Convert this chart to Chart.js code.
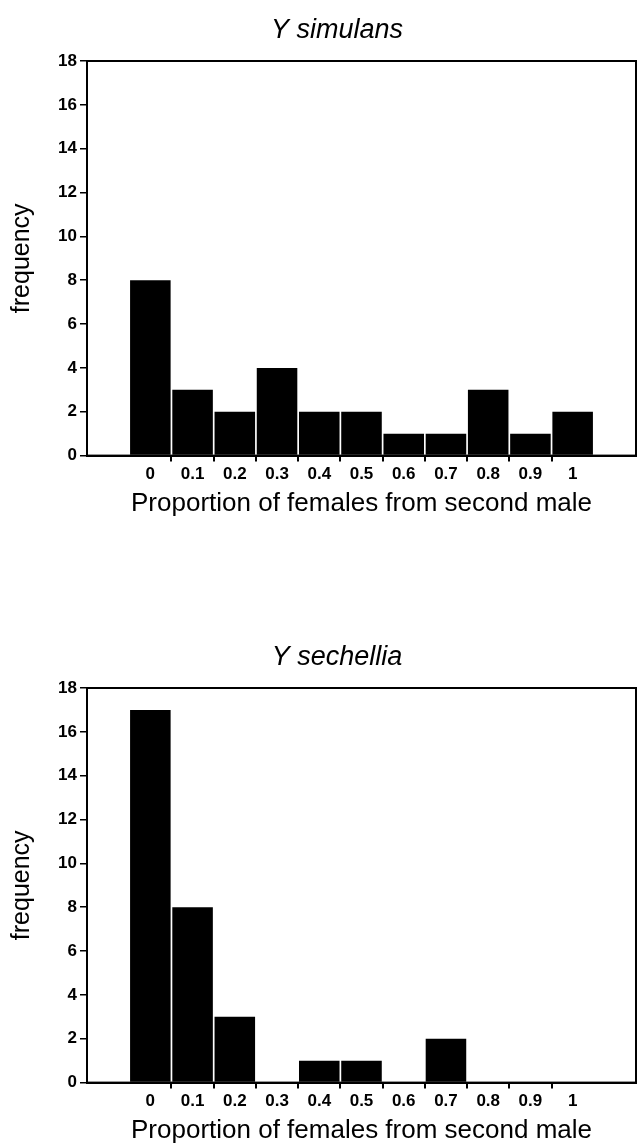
<!DOCTYPE html>
<html lang="en">
<head>
  <meta charset="UTF-8">
  <title>Proportion of females from second male</title>
  <script src="https://cdn.jsdelivr.net/npm/chart.js"></script>
  <style>
    html, body {
      margin: 0;
      padding: 0;
      background: #fff;
      overflow: hidden;
    }
    .panel {
      position: absolute;
      left: 0;
      width: 638px;
      height: 517px;
    }
    #panel-top { top: 0; }
    #panel-bottom { top: 627px; }
  </style>
</head>
<body>
  <div class="panel" id="panel-top"><canvas id="chart-simulans" width="638" height="517"></canvas></div>
  <div class="panel" id="panel-bottom"><canvas id="chart-sechellia" width="638" height="517"></canvas></div>

  <script>
    // bins of the histogram (proportion of females from the second male)
    const binLabels = ['0', '0.1', '0.2', '0.3', '0.4', '0.5', '0.6', '0.7', '0.8', '0.9', '1'];
    const simulansFreq = [8, 3, 2, 4, 2, 2, 1, 1, 3, 1, 2];
    const sechelliaFreq = [17, 8, 3, 0, 1, 1, 0, 2, 0, 0, 0];
    const yTicks = [0, 2, 4, 6, 8, 10, 12, 14, 16, 18];

    const FONT = 'Arial, "Liberation Sans", Helvetica, sans-serif';

    // box round the plot area + nudge the title a bit to the right
    const framePlugin = {
      id: 'frame',
      afterLayout(chart) {
        if (chart.titleBlock) chart.titleBlock.left += 38;
      },
      afterDatasetsDraw(chart) {
        const { ctx, chartArea: a } = chart;
        ctx.save();
        ctx.strokeStyle = '#000';
        ctx.lineWidth = 2;
        ctx.strokeRect(a.left, a.top, a.right - a.left, a.bottom - a.top);
        ctx.restore();
      }
    };

    function makeHistogram(canvasId, title, values) {
      // one empty slot on each side, like the original figure
      const labels = ['', ...binLabels, ''];
      const data = [null, ...values, null];

      new Chart(document.getElementById(canvasId), {
        type: 'bar',
        data: {
          labels: labels,
          datasets: [{
            data: data,
            backgroundColor: '#000',
            borderWidth: 0,
            barPercentage: 0.96,
            categoryPercentage: 1
          }]
        },
        options: {
          responsive: false,
          animation: false,
          devicePixelRatio: 1,
          layout: { padding: { left: 0, right: 2, top: 0, bottom: 0 } },
          plugins: {
            legend: { display: false },
            tooltip: { enabled: false },
            title: {
              display: true,
              text: title,
              color: '#000',
              font: { family: FONT, size: 27, style: 'italic', weight: 'normal' },
              padding: { top: 14, bottom: 14.6 }
            }
          },
          scales: {
            x: {
              type: 'category',
              offset: true,
              grid: {
                offset: true,
                drawOnChartArea: false,
                drawTicks: true,
                tickLength: 6,
                lineWidth: 2,
                tickColor: (ctx) => (ctx.index >= 2 && ctx.index <= 11 ? '#000' : 'rgba(0,0,0,0)')
              },
              border: { color: '#000', width: 2 },
              ticks: {
                color: '#000',
                padding: 3,
                maxRotation: 0,
                autoSkip: false,
                font: { family: FONT, size: 17, weight: 'bold' }
              },
              title: {
                display: true,
                text: 'Proportion of females from second male',
                color: '#000',
                font: { family: FONT, size: 26, weight: 'normal', lineHeight: 1 },
                padding: { top: 3, bottom: 0 }
              }
            },
            y: {
              min: 0,
              max: 18,
              afterBuildTicks: (scale) => {
                scale.ticks = yTicks.map((v) => ({ value: v }));
              },
              afterFit: (scale) => {
                scale.width = 87;
              },
              grid: {
                drawOnChartArea: false,
                drawTicks: true,
                tickLength: 7,
                lineWidth: 1.5,
                color: '#000'
              },
              border: { color: '#000', width: 2 },
              ticks: {
                color: '#000',
                padding: 3,
                font: { family: FONT, size: 17, weight: 'bold' }
              },
              title: {
                display: true,
                text: 'frequency',
                color: '#000',
                font: { family: FONT, size: 25, weight: 'normal' },
                padding: { top: 7, bottom: 4 }
              }
            }
          }
        },
        plugins: [framePlugin]
      });
    }

    makeHistogram('chart-simulans', 'Y simulans', simulansFreq);
    makeHistogram('chart-sechellia', 'Y sechellia', sechelliaFreq);
  </script>
</body>
</html>
